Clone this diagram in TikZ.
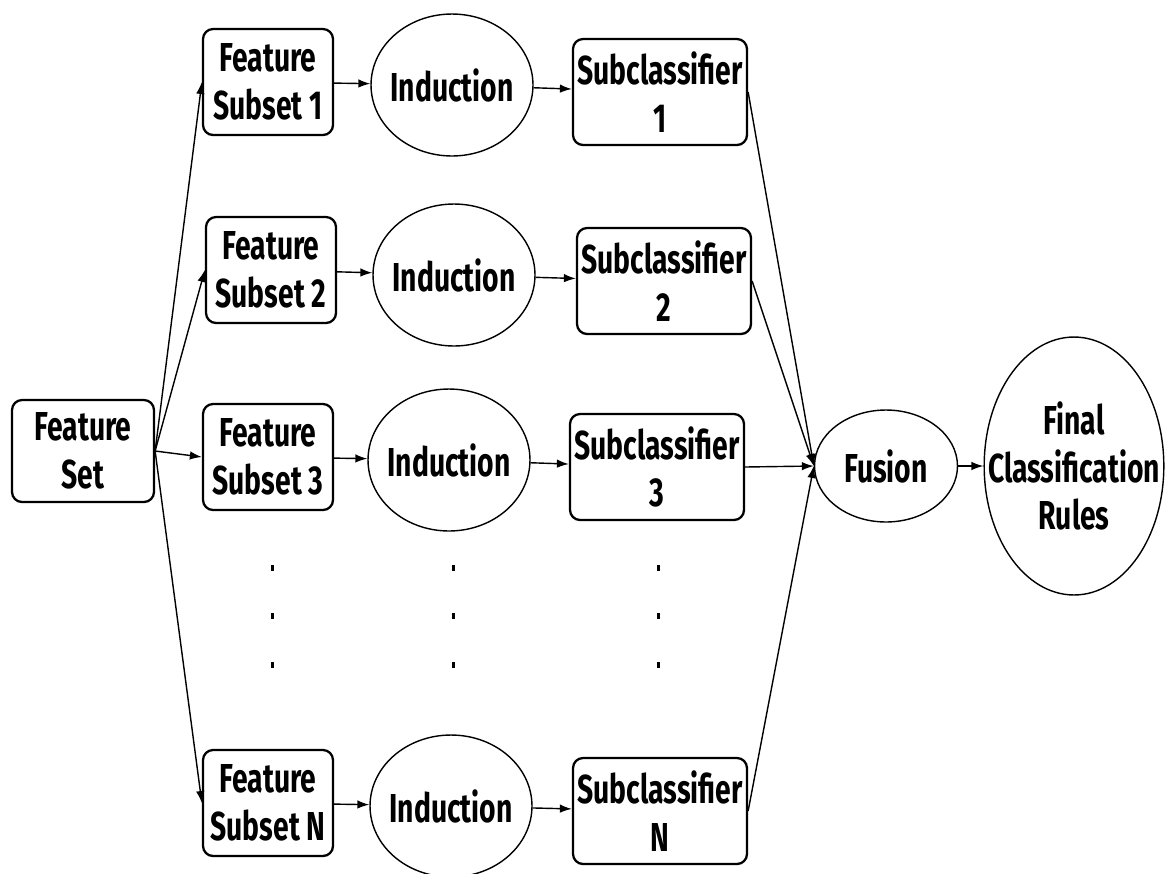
\documentclass[tikz,border=0pt]{standalone}
\usepackage{fontspec}
\setmainfont{Fira Sans}[FakeStretch=0.7]
\usetikzlibrary{arrows,arrows.meta,shapes.geometric,positioning}
\tikzset{%
	block/.style    = {draw, rectangle, line width=1.3pt, rounded corners=0.2cm, minimum width=2.6cm, minimum height=2.12cm, align=center, inner sep=1pt, font=\fontsize{23}{27}\selectfont\bfseries},
	wideblock/.style = {block, minimum width=3.48cm}, % Subclassifier
	oval/.style     = {draw, ellipse, line width=0.8pt, minimum width=3.24cm, minimum height=2.84cm, align=center, inner xsep=-0.15cm, inner ysep=0pt, font=\fontsize{23}{27}\selectfont\bfseries},
	vdot/.style     = {fill, rectangle, inner sep=0pt, minimum width=0.06cm, minimum height=0.12cm}, % Ellipsis dot
}
\begin{document}
\begin{tikzpicture}[x=0.02cm, y=-0.02cm, >={Latex[length=0.24cm, width=0.17cm]}, line width=0.8pt]
		\useasboundingbox (0,0) rectangle (1166,873);
		\node[block, minimum width=2.84cm, minimum height=2.04cm] (fset) at (83,451) {Feature\\Set};
		\node[block] (fs1) at (268,82) {Feature\\Subset 1};
		\node[block] (fs2) at (271,270) {Feature\\Subset 2};
		\node[block] (fs3) at (268,457) {Feature\\Subset 3};
		\node[block] (fsN) at (268,803) {Feature\\Subset N};
		\node[oval] (ind1) at (452,85) {Induction};
		\node[oval] (ind2) at (454,275) {Induction};
		\node[oval] (ind3) at (449,460) {Induction};
		\node[oval] (indN) at (451,806) {Induction};
		\node[wideblock] (sub1) at (660,92) {Subclassifier\\1};
		\node[wideblock] (sub2) at (664,281) {Subclassifier\\2};
		\node[wideblock] (sub3) at (657,467) {Subclassifier\\3};
		\node[wideblock] (subN) at (660,811) {Subclassifier\\N};
		\node[oval, minimum width=2.86cm, minimum height=2.24cm] (fus) at (886,466) {Fusion};
		\node[oval, minimum width=3.54cm, minimum height=5.16cm, inner xsep=-0.45cm] (rules) at (1074,466) {Final\\Classification\\Rules};
		% ellipsis between row 3 and row N
		\foreach \x in {272,453,658}
			\foreach \y in {568,616,665}
				\node[vdot] (d-\x-\y) at (\x,\y) {};
		\foreach \s in {1,2,3,N} {
			\draw[->] (fset.east) -- (fs\s.west);
			\draw[->] (fs\s) -- (ind\s);
			\draw[->] (ind\s) -- (sub\s);
			\draw[->] (sub\s.east) -- (fus.west);
		}
		\draw[->] (fus.east) -- (rules.west);
\end{tikzpicture}
\end{document}
